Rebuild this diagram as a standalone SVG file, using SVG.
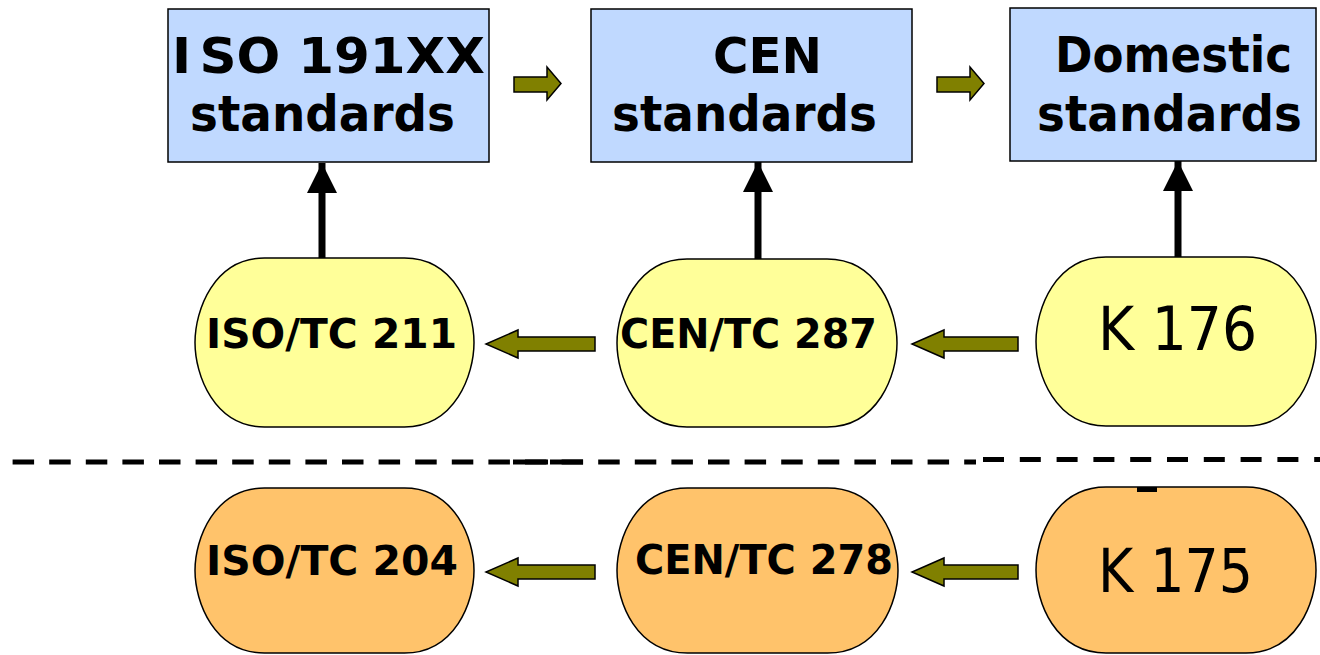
<svg xmlns="http://www.w3.org/2000/svg" width="1320" height="655" viewBox="0 0 1320 655">
  <style>
    .box { fill: #C0D9FF; stroke: #000; stroke-width: 1.5; }
    .yel { fill: #FFFF99; stroke: #000; stroke-width: 1.5; }
    .ora { fill: #FFC36B; stroke: #000; stroke-width: 1.5; }
    .t1 { font-family: "DejaVu Sans", Verdana, sans-serif; font-weight: bold; font-size: 50px; fill: #000; }
    .t2 { font-family: "DejaVu Sans", Verdana, sans-serif; font-weight: bold; font-size: 49px; fill: #000; }
    .te { font-family: "DejaVu Sans", Verdana, sans-serif; font-weight: bold; font-size: 41px; fill: #000; }
    .tk { font-family: "DejaVu Sans", Verdana, sans-serif; font-weight: normal; font-size: 61px; fill: #000; }
    .blk { fill: #808000; stroke: #000; stroke-width: 1.5; stroke-linejoin: miter; }
    .up { stroke: #000; stroke-width: 7; fill: none; marker-end: url(#head); }
    .dash { stroke: #000; stroke-width: 5; fill: none; }
  </style>
  <defs>
    <marker id="head" markerUnits="userSpaceOnUse" markerWidth="30" markerHeight="30" viewBox="0 0 30 30" refX="30" refY="15" orient="auto">
      <path d="M0,0 L30,15 L0,30 Z" fill="#000"/>
    </marker>
  </defs>

  <!-- separator dashed lines -->
  <g id="separator">
    <line class="dash" x1="12.6" y1="462" x2="976" y2="462" stroke-dasharray="21.5 15.1"/>
    <line class="dash" x1="513" y1="462" x2="548" y2="462"/>
    <line class="dash" x1="550" y1="462" x2="583" y2="462"/>
    <line class="dash" x1="983" y1="459.5" x2="1320" y2="459.5" stroke-dasharray="21 15.8"/>
  </g>

  <!-- connectors -->
  <g id="connectors">
    <line class="up" x1="322" y1="259" x2="322" y2="163"/>
    <line class="up" x1="758" y1="259" x2="758" y2="162"/>
    <line class="up" x1="1178" y1="258" x2="1178" y2="161"/>
    <path class="blk" d="M514,77 L547,77 L547,67 L561,83.5 L547,100 L547,92 L514,92 Z"/>
    <path class="blk" d="M937,77 L970,77 L970,67 L984,83.5 L970,100 L970,92 L937,92 Z"/>
    <path class="blk" d="M595,337 L518,337 L518,330 L486,344 L518,358 L518,351 L595,351 Z"/>
    <path class="blk" d="M1018,337 L944,337 L944,330 L912,344 L944,358 L944,351 L1018,351 Z"/>
    <path class="blk" d="M595,565 L518,565 L518,558 L486,572 L518,586 L518,579 L595,579 Z"/>
    <path class="blk" d="M1018,565 L944,565 L944,558 L912,572 L944,586 L944,579 L1018,579 Z"/>
  </g>

  <!-- standards boxes -->
  <g id="iso-standards">
    <rect class="box" x="168" y="9" width="321" height="153"/>
    <text class="t1" x="172" y="73" font-size="53" textLength="313" lengthAdjust="spacingAndGlyphs">I<tspan dx="8">SO 191XX</tspan></text>
    <text class="t2" x="190" y="131" textLength="265" lengthAdjust="spacingAndGlyphs">standards</text>
  </g>
  <g id="cen-standards">
    <rect class="box" x="591" y="9" width="321" height="153"/>
    <text class="t1" x="713" y="73" textLength="109" lengthAdjust="spacingAndGlyphs">CEN</text>
    <text class="t2" x="612" y="131" textLength="265" lengthAdjust="spacingAndGlyphs">standards</text>
  </g>
  <g id="domestic-standards">
    <rect class="box" x="1010" y="8" width="306" height="153"/>
    <text class="t1" x="1055" y="72" textLength="237" lengthAdjust="spacingAndGlyphs">Domestic</text>
    <text class="t2" x="1037" y="131" textLength="265" lengthAdjust="spacingAndGlyphs">standards</text>
  </g>

  <!-- committees row 1 -->
  <g id="iso-tc-211">
    <path class="yel" d="M264.5,258 L404.5,258 C455,258 474,310 474,342.5 C474,375 455,427 404.5,427 L264.5,427 C214,427 195,375 195,342.5 C195,310 214,258 264.5,258 Z"/>
    <text class="te" x="206" y="348" textLength="251" lengthAdjust="spacingAndGlyphs">ISO/TC 211</text>
  </g>
  <g id="cen-tc-287">
    <path class="yel" d="M687,259 L827,259 C878,259 897,311 897,343 C897,375 878,427 827,427 L687,427 C636,427 617,375 617,343 C617,311 636,259 687,259 Z"/>
    <text class="te" x="620" y="348" textLength="257" lengthAdjust="spacingAndGlyphs">CEN/TC 287</text>
  </g>
  <g id="k-176">
    <path class="yel" d="M1106,257 L1246,257 C1297,257 1316,309 1316,341.5 C1316,374 1297,426 1246,426 L1106,426 C1055,426 1036,374 1036,341.5 C1036,309 1055,257 1106,257 Z"/>
    <text class="tk" x="1098" y="350" textLength="159" lengthAdjust="spacingAndGlyphs">K 176</text>
  </g>

  <!-- committees row 2 -->
  <g id="iso-tc-204">
    <path class="ora" d="M264.5,488 L404.5,488 C455,488 474,539 474,570.5 C474,602 455,653 404.5,653 L264.5,653 C214,653 195,602 195,570.5 C195,539 214,488 264.5,488 Z"/>
    <text class="te" x="206" y="575" textLength="252" lengthAdjust="spacingAndGlyphs">ISO/TC 204</text>
  </g>
  <g id="cen-tc-278">
    <path class="ora" d="M687.5,488 L827.5,488 C879,488 898,539 898,570.5 C898,602 879,653 827.5,653 L687.5,653 C636,653 617,602 617,570.5 C617,539 636,488 687.5,488 Z"/>
    <text class="te" x="635" y="574" textLength="258" lengthAdjust="spacingAndGlyphs">CEN/TC 278</text>
  </g>
  <g id="k-175">
    <path class="ora" d="M1106,487 L1246,487 C1297,487 1316,538 1316,570 C1316,602 1297,653 1246,653 L1106,653 C1055,653 1036,602 1036,570 C1036,538 1055,487 1106,487 Z"/>
    <rect x="1137" y="487" width="20" height="5" fill="#000"/>
    <text class="tk" x="1098" y="592" textLength="155" lengthAdjust="spacingAndGlyphs">K 175</text>
  </g>
</svg>
